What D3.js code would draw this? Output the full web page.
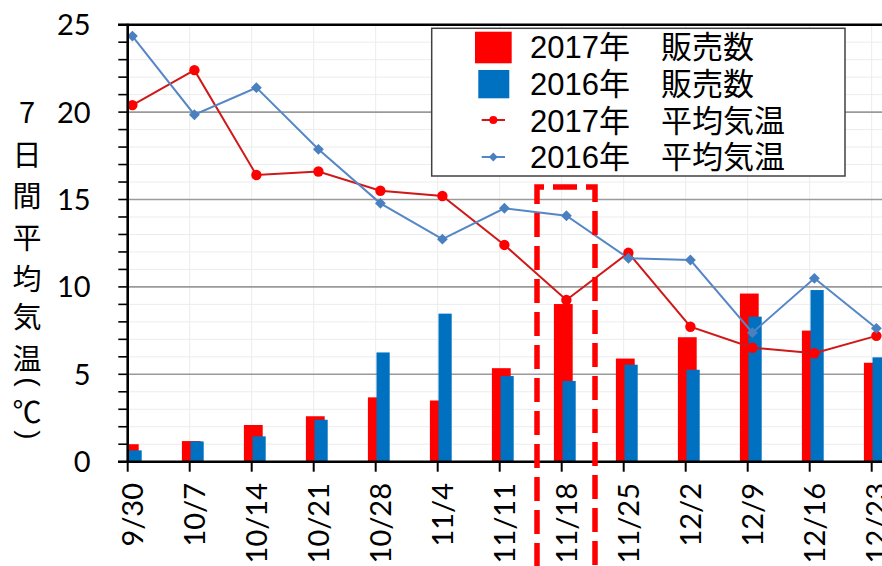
<!DOCTYPE html>
<html>
<head>
<meta charset="utf-8">
<script src="https://cdn.jsdelivr.net/npm/d3@7/dist/d3.min.js"></script>
<style>
  html, body { margin: 0; padding: 0; background: #fff; }
  svg { display: block; }
</style>
</head>
<body>
<svg id="chart" width="882" height="566"></svg>
<script>
const categories = ["9/30","10/7","10/14","10/21","10/28","11/4","11/11","11/18","11/25","12/2","12/9","12/16","12/23"];
const sales2017 = [1.0, 1.18, 2.1, 2.6, 3.68, 3.5, 5.35, 9.02, 5.9, 7.12, 9.62, 7.5, 5.66];
const sales2016 = [0.65, 1.16, 1.45, 2.4, 6.25, 8.47, 4.9, 4.62, 5.55, 5.26, 8.3, 9.82, 5.97];
const temp2017 = [20.4, 22.4, 16.4, 16.6, 15.5, 15.2, 12.4, 9.25, 11.95, 7.72, 6.52, 6.2, 7.2];
const temp2016 = [24.35, 19.85, 21.4, 17.87, 14.78, 12.73, 14.5, 14.07, 11.64, 11.54, 7.38, 10.49, 7.63];
const yTicks = [0, 5, 10, 15, 20, 25];
const yMinorTicks = d3.range(0, 26, 1);
const legendLabels = ["2017年\u3000販売数", "2016年\u3000販売数", "2017年\u3000平均気温", "2016年\u3000平均気温"];
const yTitleChars = ["7", "日", "間", "平", "均", "気", "温", "(", "℃", ")"];
const highlightCategory = "11/18";

const svg = d3.select("#chart");
const pLeft = 127.7, pTop = 24.7, pBottom = 461.7, pRight = 882;
const y = d3.scaleLinear().domain([0, 25]).range([pBottom, pTop]);
const x = d3.scalePoint().domain(categories).range([127.7, 871.7]);
const cOff = 4.7;

const numFont = "Lato, 'Open Sans', 'DejaVu Sans', sans-serif";
const jpFont = "'Liberation Sans', 'Noto Sans CJK JP', sans-serif";

svg.append("defs").append("clipPath").attr("id", "plotclip")
  .append("rect").attr("x", pLeft).attr("y", pTop).attr("width", pRight - pLeft).attr("height", pBottom - pTop);

// minor gridlines
svg.append("g").selectAll("line").data(yMinorTicks.filter(d => d % 5 !== 0)).join("line")
  .attr("x1", pLeft).attr("x2", pRight).attr("y1", d => y(d)).attr("y2", d => y(d))
  .attr("stroke", "#ececec").attr("stroke-width", 1);
// vertical gridlines
svg.append("g").selectAll("line").data(categories.slice(1)).join("line")
  .attr("x1", d => x(d)).attr("x2", d => x(d)).attr("y1", pTop).attr("y2", pBottom)
  .attr("stroke", "#ececec").attr("stroke-width", 1);
// major gridlines
svg.append("g").selectAll("line").data(yTicks.filter(d => d > 0 && d < 25)).join("line")
  .attr("x1", pLeft).attr("x2", pRight).attr("y1", d => y(d)).attr("y2", d => y(d))
  .attr("stroke", "#9a9a9a").attr("stroke-width", 1.6);

// bars
const bars = svg.append("g").attr("clip-path", "url(#plotclip)");
bars.selectAll("rect.r").data(categories).join("rect").attr("class", "r")
  .attr("x", d => x(d) - 7.8).attr("width", 18.8)
  .attr("y", (d, i) => y(sales2017[i])).attr("height", (d, i) => y(0) - y(sales2017[i]))
  .attr("fill", "#ff0000");
bars.selectAll("rect.b").data(categories).join("rect").attr("class", "b")
  .attr("x", d => x(d) + 0.8).attr("width", 13.2)
  .attr("y", (d, i) => y(sales2016[i])).attr("height", (d, i) => y(0) - y(sales2016[i]))
  .attr("fill", "#0070c0");

// lines
const line = d3.line().x(d => x(d.c) + cOff).y(d => y(d.v));
const d17 = categories.map((c, i) => ({c, v: temp2017[i]}));
const d16 = categories.map((c, i) => ({c, v: temp2016[i]}));
svg.append("path").datum(d17).attr("d", line).attr("fill", "none")
  .attr("stroke", "#d01818").attr("stroke-width", 2);
svg.append("path").datum(d16).attr("d", line).attr("fill", "none")
  .attr("stroke", "#5587c6").attr("stroke-width", 2);
svg.append("g").selectAll("circle").data(d17).join("circle")
  .attr("cx", d => x(d.c) + cOff).attr("cy", d => y(d.v)).attr("r", 5.2).attr("fill", "#ff0000");
const diamond = d3.symbol().type(d3.symbolDiamond2).size(75);
svg.append("g").selectAll("path").data(d16).join("path")
  .attr("transform", d => `translate(${x(d.c) + cOff},${y(d.v)})`)
  .attr("d", diamond).attr("fill", "#4a7fc0");

// axes
svg.append("line").attr("x1", pLeft).attr("x2", pLeft).attr("y1", pTop - 1).attr("y2", pBottom + 1)
  .attr("stroke", "#000").attr("stroke-width", 2.6);
svg.append("line").attr("x1", 118).attr("x2", pRight).attr("y1", pTop).attr("y2", pTop)
  .attr("stroke", "#000").attr("stroke-width", 2.6);
svg.append("line").attr("x1", 118).attr("x2", pRight).attr("y1", pBottom).attr("y2", pBottom)
  .attr("stroke", "#000").attr("stroke-width", 2.6);
svg.append("g").selectAll("line").data(yMinorTicks).join("line")
  .attr("x1", 118.3).attr("x2", pLeft).attr("y1", d => y(d)).attr("y2", d => y(d))
  .attr("stroke", "#000").attr("stroke-width", 1.6);
svg.append("g").selectAll("line").data(categories).join("line")
  .attr("x1", d => x(d)).attr("x2", d => x(d)).attr("y1", pBottom).attr("y2", pBottom + 10)
  .attr("stroke", "#000").attr("stroke-width", 2);

// y tick labels
svg.append("g").selectAll("text").data(yTicks).join("text")
  .attr("x", 90.7).attr("y", d => y(d) + 10.5).attr("text-anchor", "end")
  .attr("font-family", numFont).attr("font-weight", 400).attr("font-size", 29)
  .attr("fill", "#000").text(d => d);

// x tick labels
svg.append("g").selectAll("text").data(categories).join("text")
  .attr("transform", d => `translate(${x(d) + 5},483) rotate(-90)`)
  .attr("dy", "0.36em").attr("text-anchor", "end")
  .attr("font-family", numFont).attr("font-weight", 400).attr("font-size", 29)
  .attr("fill", "#000").text(d => d);

// y title (vertical, one character per line)
const titleY = [110, 153, 194, 236, 277, 315, 357, 382, 410, 435];
svg.append("g").selectAll("text").data(yTitleChars).join("text")
  .attr("transform", (d, i) => {
    if (d === "(" || d === ")") return `translate(29,${titleY[i]}) rotate(90)`;
    return `translate(27,${titleY[i]})`;
  })
  .attr("text-anchor", "middle").attr("dominant-baseline", "central")
  .attr("font-family", d => (d === "(" || d === ")") ? "'Liberation Sans', sans-serif" : "'Noto Sans CJK JP', sans-serif")
  .attr("font-size", d => (d === "(" || d === ")") ? 28 : 29)
  .attr("fill", "#000").text(d => d);

// legend
const lg = svg.append("g");
lg.append("rect").attr("x", 431.7).attr("y", 28.3).attr("width", 413.3).attr("height", 147.7)
  .attr("fill", "#fff").attr("stroke", "#404040").attr("stroke-width", 1.5);
const rowBase = [58.3, 95, 131.7, 168.3];
lg.append("rect").attr("x", 475).attr("y", 31.7).attr("width", 36.7).attr("height", 31.6).attr("fill", "#ff0000");
lg.append("rect").attr("x", 478.3).attr("y", 70).attr("width", 31).attr("height", 28.3).attr("fill", "#0070c0");
lg.append("line").attr("x1", 481.7).attr("x2", 505).attr("y1", 120).attr("y2", 120).attr("stroke", "#d01818").attr("stroke-width", 2);
lg.append("circle").attr("cx", 493.3).attr("cy", 120).attr("r", 4).attr("fill", "#ff0000");
lg.append("line").attr("x1", 481.7).attr("x2", 505).attr("y1", 157).attr("y2", 157).attr("stroke", "#5587c6").attr("stroke-width", 2);
lg.append("path").attr("transform", "translate(493.3,157)").attr("d", d3.symbol().type(d3.symbolDiamond2).size(50)).attr("fill", "#4a7fc0");
lg.selectAll("text").data(legendLabels).join("text")
  .attr("x", 530).attr("y", (d, i) => rowBase[i])
  .attr("font-family", jpFont).attr("font-size", 31).attr("fill", "#000").text(d => d);

// highlight dashed box
const hx = x(highlightCategory);
svg.append("path")
  .attr("d", `M${hx - 24.7},600 L${hx - 24.7},187 L${hx + 33.3},187 L${hx + 33.3},600`)
  .attr("fill", "none").attr("stroke", "#ff0000").attr("stroke-width", 5.5)
  .attr("stroke-dasharray", "24,9");
</script>
</body>
</html>
